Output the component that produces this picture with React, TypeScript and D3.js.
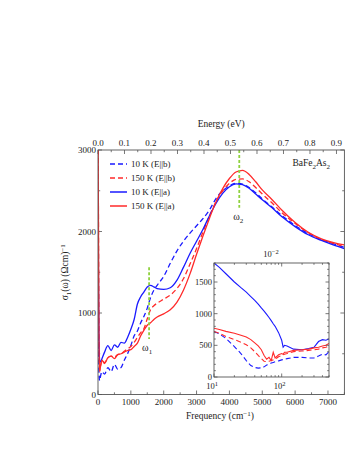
import { useEffect, useRef } from 'react';
import * as d3 from 'd3';

// main panel: frequency grid (cm^-1) and sigma_1 values (Ohm cm)^-1
const MAIN_FREQ = [5, 15, 30, 50, 80, 120, 200, 300, 400, 500, 600, 700, 800, 900, 1000, 1100, 1200, 1300, 1400, 1500, 1600, 1700, 1800, 2000, 2200, 2400, 2600, 2800, 3000, 3200, 3400, 3600, 3800, 4000, 4200, 4400, 4600, 4800, 5000, 5300, 5600, 6000, 6400, 6800, 7200, 7500];
const B10_B = [2000, 700, 250, 170, 230, 280, 250, 330, 280, 370, 310, 330, 420, 500, 600, 720, 780, 880, 960, 1060, 1190, 1280, 1340, 1450, 1610, 1760, 1880, 1980, 2070, 2160, 2270, 2410, 2500, 2560, 2590, 2580, 2540, 2475, 2400, 2300, 2195, 2075, 1975, 1900, 1845, 1805];
const R150_B = [3100, 2000, 600, 300, 360, 420, 390, 450, 470, 460, 490, 500, 530, 560, 590, 640, 700, 760, 810, 930, 1040, 1090, 1120, 1170, 1220, 1300, 1420, 1600, 1790, 2000, 2200, 2370, 2500, 2590, 2640, 2645, 2610, 2540, 2460, 2350, 2230, 2100, 1985, 1900, 1850, 1815];
const B10_A = [2600, 1400, 700, 420, 400, 440, 520, 600, 540, 610, 580, 640, 630, 700, 800, 920, 1110, 1200, 1260, 1320, 1340, 1320, 1300, 1290, 1310, 1400, 1560, 1730, 1880, 2030, 2200, 2350, 2470, 2550, 2585, 2575, 2530, 2460, 2390, 2290, 2180, 2060, 1960, 1890, 1830, 1790];
const R150_A = [3100, 2000, 600, 280, 350, 420, 380, 450, 470, 440, 490, 500, 520, 540, 550, 590, 630, 720, 790, 850, 880, 920, 950, 990, 1040, 1130, 1280, 1480, 1720, 1950, 2170, 2370, 2530, 2650, 2730, 2750, 2700, 2610, 2510, 2390, 2260, 2110, 1990, 1910, 1860, 1835];

// inset: log frequency grid
const INSET_FREQ = [10, 12, 15, 20, 25, 30, 35, 40, 45, 50, 55, 60, 65, 70, 75, 80, 90, 100, 105, 110, 120, 150, 200, 250, 300, 350, 400, 450, 500];
const IN_B10_B = [720, 680, 610, 480, 370, 260, 180, 150, 140, 145, 160, 190, 200, 220, 230, 240, 255, 270, 275, 280, 290, 310, 310, 300, 300, 330, 360, 350, 400];
const IN_R150_B = [720, 690, 640, 590, 550, 510, 460, 400, 340, 290, 250, 240, 250, 260, 270, 280, 320, 340, 350, 360, 370, 400, 410, 420, 430, 440, 460, 470, 490];
const IN_B10_A = [1800, 1730, 1630, 1500, 1410, 1340, 1270, 1210, 1150, 1090, 1040, 990, 940, 890, 840, 800, 700, 580, 470, 500, 490, 440, 430, 450, 470, 560, 590, 580, 600];
const IN_R150_A = [770, 750, 720, 690, 660, 630, 590, 540, 490, 430, 340, 280, 310, 260, 390, 300, 350, 370, 360, 390, 390, 420, 430, 440, 460, 470, 490, 500, 530];

const SERIES = [
  { label: '10 K (E||b)', main: B10_B, inset: IN_B10_B, color: '#1a1aff', dash: '5,3' },
  { label: '150 K (E||b)', main: R150_B, inset: IN_R150_B, color: '#ff2a2a', dash: '5,3' },
  { label: '10 K (E||a)', main: B10_A, inset: IN_B10_A, color: '#1a1aff', dash: null },
  { label: '150 K (E||a)', main: R150_A, inset: IN_R150_A, color: '#ff2a2a', dash: null },
];

const OMEGA1 = 1555;
const OMEGA2 = 4300;
const CM_PER_EV = 8065.54;

const FONT = 'Liberation Serif';

export default function App() {
  const svgRef = useRef<SVGSVGElement>(null);

  useEffect(() => {
    const el = svgRef.current;
    if (!el) return;
    const svg = d3.select(el);
    svg.selectAll('*').remove();

    const L = 98, R = 344.4, T = 150, B = 394.5;
    const x = d3.scaleLinear().domain([0, 7500]).range([L, R]);
    const y = d3.scaleLinear().domain([0, 3000]).range([B, T]);
    const ev = d3.scaleLinear().domain([0, 7500 / CM_PER_EV]).range([L, R]);

    const defs = svg.append('defs');
    defs.append('clipPath').attr('id', 'mainclip')
      .append('rect').attr('x', L).attr('y', T).attr('width', R - L).attr('height', B - T);

    const txt = (xx: number, yy: number, s: string, size = 9, anchor = 'middle') =>
      svg.append('text').attr('x', xx).attr('y', yy).attr('text-anchor', anchor)
        .style('font-family', FONT).attr('font-size', size).attr('fill', '#222').text(s);

    // ticks, inward
    const tick = (x1: number, y1: number, x2: number, y2: number) =>
      svg.append('line').attr('x1', x1).attr('y1', y1).attr('x2', x2).attr('y2', y2)
        .attr('stroke', '#555').attr('stroke-width', 0.8);

    d3.range(0, 7501, 500).forEach((v) => {
      const len = v % 1000 === 0 ? 4 : 2.2;
      tick(x(v), B, x(v), B - len);
      if (v % 1000 === 0) txt(x(v), B + 10, String(v));
    });
    d3.range(0, 0.93, 0.05).forEach((v, i) => {
      const len = i % 2 === 0 ? 4 : 2.2;
      tick(ev(v), T, ev(v), T + len);
      if (i % 2 === 0) txt(ev(v), T - 4, v.toFixed(1));
    });
    d3.range(0, 3001, 500).forEach((v) => {
      const len = v % 1000 === 0 ? 4 : 2.2;
      tick(L, y(v), L + len, y(v));
      tick(R, y(v), R - len, y(v));
      if (v % 1000 === 0) txt(L - 2, y(v) + 3, String(v), 9, 'end');
    });

    // curves
    const g = svg.append('g').attr('clip-path', 'url(#mainclip)');
    const line = d3.line<number>().x((_, i) => x(MAIN_FREQ[i])).y((d) => y(d)).curve(d3.curveMonotoneX);
    SERIES.forEach((s) => {
      g.append('path').attr('d', line(s.main) || '').attr('fill', 'none')
        .attr('stroke', s.color).attr('stroke-width', 1.3)
        .attr('stroke-dasharray', s.dash || null);
    });

    // omega markers
    const green = '#8fd13f';
    svg.append('line').attr('x1', x(OMEGA1)).attr('x2', x(OMEGA1)).attr('y1', y(1560)).attr('y2', y(680))
      .attr('stroke', green).attr('stroke-width', 1.8).attr('stroke-dasharray', '3,2');
    svg.append('line').attr('x1', x(OMEGA2)).attr('x2', x(OMEGA2)).attr('y1', y(3000)).attr('y2', y(2290))
      .attr('stroke', green).attr('stroke-width', 1.8).attr('stroke-dasharray', '3,2');
    const om = (xx: number, yy: number, sub: string) => {
      const t = txt(xx - 2, yy, 'ω', 10);
      t.append('tspan').attr('dy', 2.5).attr('font-size', 7).text(sub);
    };
    om(x(OMEGA1), 351, '1');
    om(x(OMEGA2) + 1, 220, '2');

    // frame
    svg.append('rect').attr('x', L).attr('y', T).attr('width', R - L).attr('height', B - T)
      .attr('fill', 'none').attr('stroke', '#555').attr('stroke-width', 0.9);

    // legend
    SERIES.forEach((s, i) => {
      const ly = 164 + i * 14;
      svg.append('line').attr('x1', 110).attr('x2', 127).attr('y1', ly).attr('y2', ly)
        .attr('stroke', s.color).attr('stroke-width', 1.5).attr('stroke-dasharray', s.dash || null);
      txt(131, ly + 3, s.label, 9, 'start');
    });
    const ba = txt(330, 166, 'BaFe', 9.5, 'end');
    ba.append('tspan').attr('dy', 2.5).attr('font-size', 7).text('2');
    ba.append('tspan').attr('dy', -2.5).text('As');
    ba.append('tspan').attr('dy', 2.5).attr('font-size', 7).text('2');

    // axis titles
    txt((L + R) / 2, 127, 'Energy (eV)', 9.5);
    const xl = txt(220, 419, 'Frequency (cm', 9.5);
    xl.append('tspan').attr('dy', -3.5).attr('font-size', 7).text('\u22121');
    xl.append('tspan').attr('dy', 3.5).text(')');
    const yl = svg.append('text').attr('transform', `translate(68,${(T + B) / 2}) rotate(-90)`)
      .attr('text-anchor', 'middle').style('font-family', FONT).attr('font-size', 9.5).attr('fill', '#222');
    yl.append('tspan').text('σ');
    yl.append('tspan').attr('dy', 2.5).attr('font-size', 7).text('1');
    yl.append('tspan').attr('dy', -2.5).text('(ω) (Ωcm)');
    yl.append('tspan').attr('dy', -3.5).attr('font-size', 7).text('\u22121');

    // inset
    const iL = 214, iR = 329, iT = 263, iB = 377;
    const xi = d3.scaleLog().domain([10, 500]).range([iL, iR]);
    const yi = d3.scaleLinear().domain([0, 1800]).range([iB, iT]);
    svg.append('rect').attr('x', iL).attr('y', iT).attr('width', iR - iL).attr('height', iB - iT).attr('fill', '#fff');
    defs.append('clipPath').attr('id', 'insetclip')
      .append('rect').attr('x', iL).attr('y', iT).attr('width', iR - iL).attr('height', iB - iT);
    const gi = svg.append('g').attr('clip-path', 'url(#insetclip)');
    const lineI = d3.line<number>().x((_, i) => xi(INSET_FREQ[i])).y((d) => yi(d));
    SERIES.forEach((s) => {
      gi.append('path').attr('d', lineI(s.inset) || '').attr('fill', 'none')
        .attr('stroke', s.color).attr('stroke-width', 1.1)
        .attr('stroke-dasharray', s.dash || null);
    });
    d3.range(0, 1801, 100).forEach((v) => {
      const len = v % 500 === 0 ? 3.5 : 1.8;
      tick(iL, yi(v), iL + len, yi(v));
      tick(iR, yi(v), iR - len, yi(v));
      if (v % 500 === 0) txt(iL - 2, yi(v) + 3, String(v), 8.5, 'end');
    });
    const logTicks = [10, 20, 30, 40, 50, 60, 70, 80, 90, 100, 200, 300, 400, 500];
    logTicks.forEach((v) => {
      const len = v === 10 || v === 100 ? 3.5 : 1.8;
      tick(xi(v), iB, xi(v), iB - len);
      tick(xi(v), iT, xi(v), iT + len);
    });
    [[10, '1'], [100, '2']].forEach(([v, e]) => {
      const t = txt(xi(v as number) - 2, 389, '10', 8.5);
      t.append('tspan').attr('dy', -3.5).attr('font-size', 6.5).text(e as string);
    });
    const e2 = txt(271, 257, '10', 8.5);
    e2.append('tspan').attr('dy', -3.5).attr('font-size', 6.5).text('\u22122');
    svg.append('rect').attr('x', iL).attr('y', iT).attr('width', iR - iL).attr('height', iB - iT)
      .attr('fill', 'none').attr('stroke', '#555').attr('stroke-width', 0.9);
  }, []);

  return (
    <div style={{ position: 'absolute', left: 0, top: 0, width: 354, height: 458, background: '#fff' }}>
      <svg ref={svgRef} width={354} height={458} />
    </div>
  );
}
